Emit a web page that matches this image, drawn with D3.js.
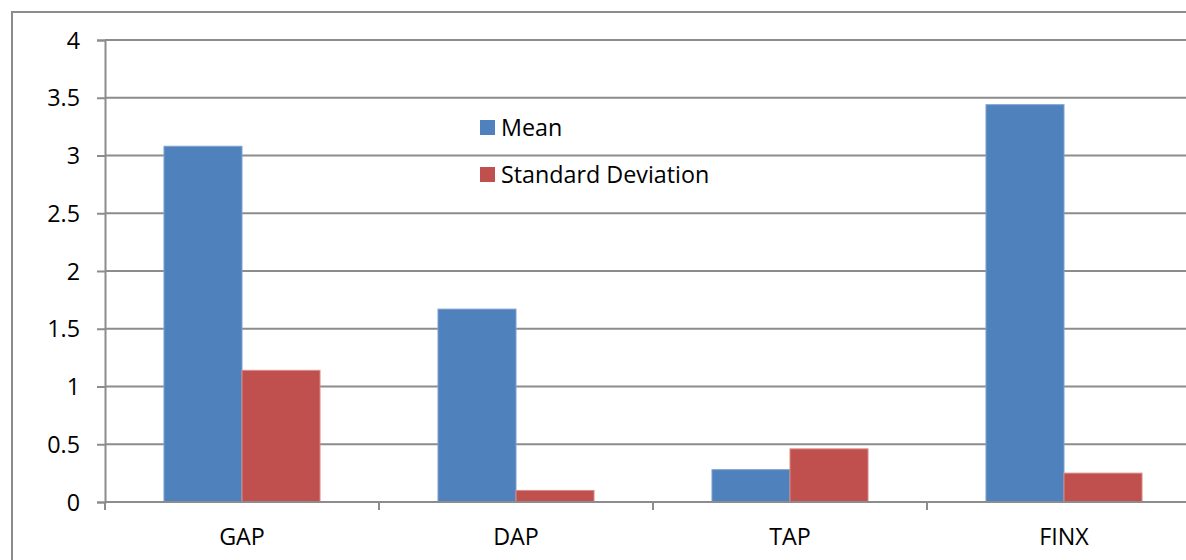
<!DOCTYPE html>
<html>
<head>
<meta charset="utf-8">
<script src="https://cdn.jsdelivr.net/npm/d3@7"></script>
<style>
  html, body { margin: 0; padding: 0; background: #fff; }
  svg { display: block; }
  text { font-family: "Open Sans", "Noto Sans", sans-serif; fill: #000; }
</style>
</head>
<body>
<svg id="chart" width="1186" height="560"></svg>
<script>
const categories = ["GAP", "DAP", "TAP", "FINX"];
const seriesNames = ["Mean", "Standard Deviation"];
const meanValues = [3.08, 1.67, 0.28, 3.44];
const sdValues = [1.14, 0.10, 0.46, 0.25];
const yTicks = [0, 0.5, 1, 1.5, 2, 2.5, 3, 3.5, 4];
const yTickLabels = ["0", "0.5", "1", "1.5", "2", "2.5", "3", "3.5", "4"];
const colors = ["#4F81BD", "#C0504D"];
const strokes = ["#7FA1CF", "#D98A88"];

(function () {
const svg = d3.select("#chart");
const W = 1186, H = 560;
const fs = "23.3px";

// outer frame
svg.append("rect").attr("x", 12).attr("y", 12).attr("width", W + 20).attr("height", H + 20)
  .attr("fill", "none").attr("stroke", "#8c8c8c").attr("stroke-width", 2);

const pLeft = 105, pRight = 105 + 274 * 4, pTop = 40, pBottom = 502;

const x = d3.scaleBand().domain(categories).range([pLeft, pRight]).paddingInner(0).paddingOuter(0);
const xInner = d3.scaleBand().domain(seriesNames).range([0, x.bandwidth()]).paddingInner(0).paddingOuter(0.756);
const y = d3.scaleLinear().domain([0, 4]).range([pBottom, pTop]);

// gridlines
svg.append("g").selectAll("line").data(yTicks.filter(d => d > 0)).join("line")
  .attr("x1", pLeft).attr("x2", W).attr("y1", d => y(d)).attr("y2", d => y(d))
  .attr("stroke", "#8c8c8c").attr("stroke-width", 2);

// y axis
const yAxis = d3.axisLeft(y).tickValues(yTicks).tickFormat((d, i) => yTickLabels[i]).tickSize(8).tickPadding(17);
const gy = svg.append("g").attr("transform", `translate(${pLeft},0)`).call(yAxis);
gy.select(".domain").attr("stroke", "#8c8c8c").attr("stroke-width", 2);
gy.selectAll(".tick line").attr("stroke", "#8c8c8c").attr("stroke-width", 2);
gy.selectAll(".tick text").style("font-size", fs).attr("fill", "#000").attr("dy", "0.35em");

// bars
const data = categories.map((c, i) => ({ cat: c, vals: [meanValues[i], sdValues[i]] }));
const groups = svg.append("g").selectAll("g").data(data).join("g")
  .attr("transform", d => `translate(${x(d.cat)},0)`);
groups.selectAll("rect").data(d => d.vals.map((v, j) => ({ name: seriesNames[j], v, j }))).join("rect")
  .attr("x", d => xInner(d.name)).attr("width", xInner.bandwidth())
  .attr("y", d => y(d.v)).attr("height", d => pBottom - y(d.v))
  .attr("fill", d => colors[d.j]).attr("stroke", d => strokes[d.j]).attr("stroke-width", 1);

// x axis
const xAxis = d3.axisBottom(x).tickSize(0).tickPadding(26);
const gx = svg.append("g").attr("transform", `translate(0,${pBottom})`).call(xAxis);
gx.select(".domain").remove();
gx.append("line").attr("x1", pLeft).attr("x2", W).attr("y1", 0).attr("y2", 0)
  .attr("stroke", "#8c8c8c").attr("stroke-width", 2);
gx.selectAll(".tick text").style("font-size", fs).attr("fill", "#000");
// category boundary ticks
const boundaries = categories.map(c => x(c)).concat([pRight]);
gx.selectAll(".btick").data(boundaries).join("line").attr("class", "btick")
  .attr("x1", d => d).attr("x2", d => d).attr("y1", 0).attr("y2", 8)
  .attr("stroke", "#8c8c8c").attr("stroke-width", 2);

// legend
const legend = svg.append("g").attr("transform", "translate(480,120)");
seriesNames.forEach((n, i) => {
  const g = legend.append("g").attr("transform", `translate(0,${i * 47})`);
  g.append("rect").attr("width", 15).attr("height", 15).attr("fill", colors[i]);
  g.append("text").attr("x", 21).attr("y", 7.5).attr("dy", "0.35em").style("font-size", fs).text(n);
});
})();
</script>
</body>
</html>
